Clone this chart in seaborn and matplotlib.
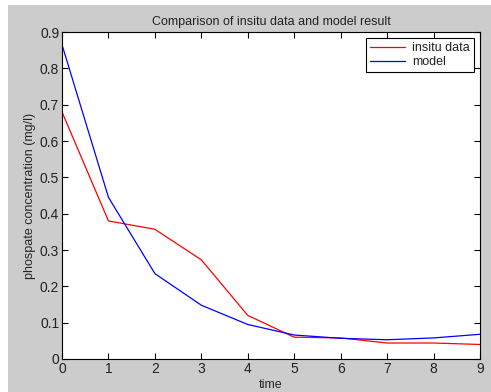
import pandas as pd
import matplotlib
matplotlib.use("Agg")
import matplotlib.pyplot as plt
from matplotlib.patches import Rectangle
import seaborn as sns

time = [0, 1, 2, 3, 4, 5, 6, 7, 8, 9]
insitu = [0.68, 0.38, 0.357, 0.273, 0.12, 0.06, 0.058, 0.044, 0.044, 0.040]
model = [0.865, 0.445, 0.235, 0.148, 0.095, 0.066, 0.057, 0.053, 0.058, 0.068]

df = pd.DataFrame({"time": time * 2,
                   "value": insitu + model,
                   "series": ["insitu data"] * len(time) + ["model"] * len(time)})

sns.set_style("ticks")
plt.rcParams["font.family"] = ["Liberation Sans", "DejaVu Sans"]
plt.rcParams["text.color"] = "#222222"

fig = plt.figure(figsize=(4.91, 3.92), dpi=100, facecolor="white")
# grey window area (white strip on left and top like the screenshot)
fig.patches.append(Rectangle((8 / 491, 0), 1, 387 / 392, transform=fig.transFigure,
                             facecolor="#cccccc", edgecolor="none", zorder=-1))
ax = fig.add_axes([62 / 491, 1 - 359 / 392, 418 / 491, 327 / 392])
ax.set_facecolor("white")

sns.lineplot(data=df, x="time", y="value", hue="series",
             palette={"insitu data": "red", "model": "blue"},
             linewidth=0.9, ax=ax)

ax.set_xlim(0, 9)
ax.set_ylim(0, 0.9)
ax.set_xticks(range(0, 10))
ax.set_yticks([i / 10 for i in range(0, 10)])
ax.set_yticklabels(["0", "0.1", "0.2", "0.3", "0.4", "0.5", "0.6", "0.7", "0.8", "0.9"])
ax.tick_params(direction="in", top=True, right=True, length=4, width=0.8,
               labelsize=10, color="black", labelcolor="#222222", pad=2)
for s in ax.spines.values():
    s.set_color("black")
    s.set_linewidth(0.8)

ax.set_title("Comparison of insitu data and model result", fontsize=9, pad=5)
ax.set_xlabel("time", fontsize=9, labelpad=2)
ax.set_ylabel("phospate concentration (mg/l)", fontsize=9, labelpad=3)

leg = ax.legend(loc="upper right", fontsize=9, fancybox=False, framealpha=1,
                edgecolor="black", borderaxespad=0.5, handlelength=2.8,
                handletextpad=0.6, borderpad=0.3, labelspacing=0.15)
leg.get_frame().set_linewidth(0.8)

fig.savefig("out.png", dpi=100)
